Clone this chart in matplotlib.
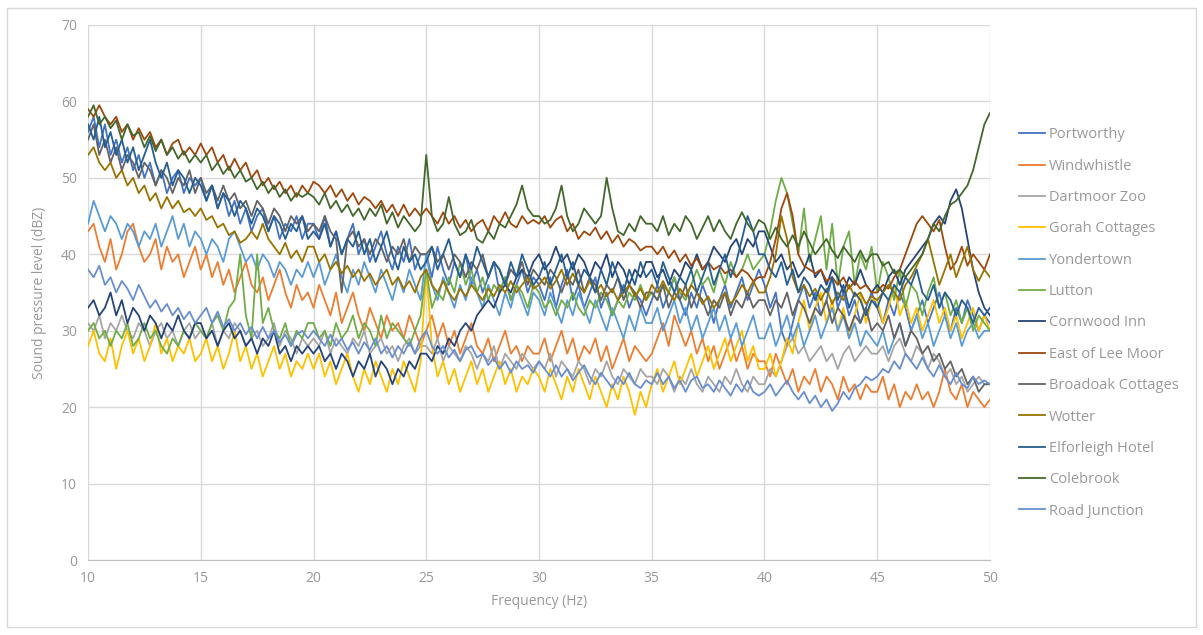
import matplotlib.pyplot as plt
import matplotlib.patches as mpatches
import numpy as np

# frequency axis, 0.25 Hz steps from 10 to 50 Hz
freq = np.arange(161) * 0.25 + 10

portworthy = [56, 58, 54, 57, 53, 55, 52, 54, 51, 53, 50, 52, 49, 51, 48, 50, 51, 48, 50, 49,
              50, 47, 49, 46, 48, 45, 47, 44, 46, 43, 45, 46, 43, 45, 42, 44, 43, 45, 42, 44,
              44, 42, 45, 41, 43, 40, 42, 44, 40, 42, 39, 41, 43, 40, 38, 41, 39, 42, 38, 40,
              40, 37, 41, 38, 36, 39, 37, 40, 36, 38, 35, 37, 39, 35, 37, 34, 36, 38, 35, 37,
              36, 34, 37, 33, 36, 38, 34, 36, 33, 35, 37, 33, 35, 32, 34, 36, 33, 35, 34, 32,
              34, 36, 33, 35, 37, 34, 32, 35, 33, 36, 34, 31, 34, 36, 33, 35, 37, 34, 36, 38,
              36, 33, 35, 30, 28, 31, 34, 36, 33, 35, 32, 34, 37, 33, 35, 32, 34, 31, 33, 35,
              33, 31, 34, 32, 35, 33, 30, 32, 34, 31, 33, 35, 32, 30, 33, 31, 34, 32, 30, 32,
              31]
windwhistle = [43, 44, 41, 39, 42, 38, 40, 43, 44, 41, 39, 40, 42, 38, 41, 39, 40, 37, 39, 41,
               38, 40, 37, 39, 36, 38, 35, 37, 39, 36, 35, 37, 34, 36, 38, 35, 33, 36, 34, 35,
               33, 36, 34, 32, 35, 31, 33, 35, 32, 30, 33, 31, 29, 32, 30, 31, 29, 32, 30, 28,
               30, 32, 29, 31, 28, 30, 27, 29, 31, 28, 27, 29, 26, 28, 30, 27, 28, 26, 28, 27,
               27, 29, 26, 28, 30, 27, 29, 26, 28, 27, 29, 26, 28, 25, 27, 29, 26, 28, 27, 26,
               27, 29, 31, 28, 32, 30, 28, 30, 27, 29, 26, 28, 25, 27, 29, 26, 28, 25, 27, 26,
               26, 24, 27, 25, 23, 25, 22, 24, 23, 25, 22, 24, 23, 21, 24, 22, 23, 21, 23, 22,
               22, 24, 21, 23, 20, 22, 21, 23, 21, 22, 20, 22, 25, 22, 21, 23, 20, 22, 21, 20,
               21]
dartmoor_zoo = [31, 30, 32, 29, 31, 30, 32, 30, 29, 31, 30, 28, 30, 31, 29, 30, 28, 30, 31, 29,
                30, 29, 31, 28, 30, 29, 31, 30, 28, 29, 30, 28, 29, 31, 28, 30, 29, 27, 29, 28,
                29, 28, 30, 27, 29, 28, 27, 29, 28, 30, 27, 28, 29, 27, 28, 26, 28, 29, 27, 28,
                28, 27, 29, 26, 28, 27, 26, 28, 27, 25, 27, 26, 28, 25, 27, 26, 25, 27, 26, 25,
                26, 25, 27, 24, 26, 25, 24, 26, 25, 23, 25, 24, 26, 24, 23, 25, 24, 23, 25, 24,
                24, 23, 25, 24, 22, 24, 23, 25, 23, 22, 24, 23, 22, 24, 23, 25, 23, 22, 24, 23,
                23, 25, 24, 26, 28, 29, 27, 28, 26, 27, 28, 26, 27, 25, 27, 28, 26, 27, 28, 27,
                27, 28, 26, 28, 29, 27, 26, 28, 27, 25, 27, 26, 24, 25, 23, 24, 22, 23, 24, 23,
                23]
gorah = [28, 30, 27, 26, 29, 25, 28, 30, 27, 29, 26, 28, 31, 27, 29, 26, 28, 27, 29, 26,
         27, 29, 26, 28, 25, 27, 30, 26, 28, 25, 27, 24, 26, 28, 25, 27, 24, 26, 25, 27,
         25, 27, 24, 26, 23, 25, 27, 24, 22, 25, 23, 26, 24, 22, 25, 23, 26, 24, 22, 26,
         38, 28, 24, 26, 23, 25, 22, 24, 26, 23, 25, 22, 24, 26, 23, 25, 22, 24, 23, 25,
         24, 22, 25, 23, 21, 24, 22, 25, 23, 21, 24, 22, 20, 23, 21, 24, 22, 19, 22, 20,
         23, 25, 22, 24, 26, 23, 25, 27, 24, 26, 28, 25, 27, 29, 26, 28, 30, 26, 28, 25,
         25, 27, 24, 26, 29, 27, 31, 34, 30, 33, 35, 31, 34, 30, 33, 29, 32, 35, 31, 34,
         34, 31, 33, 36, 32, 34, 31, 33, 30, 32, 34, 31, 33, 30, 32, 29, 31, 33, 30, 32,
         30]
yondertown = [44, 47, 45, 43, 45, 44, 42, 44, 43, 41, 43, 42, 44, 41, 43, 45, 42, 44, 41, 43,
              42, 40, 42, 41, 39, 42, 43, 41, 39, 40, 38, 40, 39, 37, 39, 38, 36, 38, 37, 39,
              37, 39, 36, 38, 40, 37, 35, 38, 36, 39, 37, 35, 38, 36, 34, 37, 35, 38, 36, 34,
              40, 36, 34, 37, 35, 33, 36, 34, 37, 35, 33, 36, 34, 32, 35, 33, 36, 34, 32, 35,
              34, 32, 35, 33, 31, 34, 32, 35, 33, 31, 34, 32, 30, 33, 31, 29, 32, 30, 33, 31,
              31, 33, 30, 32, 34, 31, 33, 30, 32, 29, 31, 33, 30, 32, 29, 31, 28, 30, 32, 29,
              29, 31, 28, 30, 32, 29, 31, 28, 30, 32, 29, 31, 33, 30, 32, 29, 31, 28, 30, 29,
              28, 30, 27, 29, 31, 28, 30, 32, 29, 31, 28, 30, 32, 29, 31, 28, 30, 31, 29, 30,
              30]
lutton = [30, 31, 29, 30, 28, 30, 29, 31, 28, 29, 31, 29, 30, 28, 27, 29, 28, 30, 29, 31,
          30, 29, 31, 32, 30, 33, 34, 40, 32, 29, 40, 31, 33, 30, 29, 31, 28, 30, 29, 31,
          31, 29, 30, 28, 31, 29, 30, 32, 29, 31, 30, 28, 32, 29, 31, 30, 29, 28, 30, 32,
          38, 33, 35, 34, 37, 35, 39, 36, 38, 35, 37, 34, 36, 35, 37, 34, 36, 35, 33, 36,
          35, 33, 34, 32, 34, 33, 35, 33, 32, 34, 33, 35, 34, 32, 34, 33, 35, 34, 36, 34,
          35, 34, 36, 35, 37, 35, 34, 36, 38, 36, 37, 35, 38, 36, 39, 37, 38, 40, 38, 39,
          40, 43, 47, 50, 48, 44, 40, 46, 39, 42, 45, 38, 44, 36, 41, 43, 36, 40, 38, 41,
          35, 39, 37, 34, 38, 33, 36, 35, 32, 35, 37, 33, 35, 32, 34, 31, 33, 30, 32, 31,
          30]
cornwood = [33, 34, 32, 33, 35, 32, 34, 31, 33, 32, 30, 32, 31, 29, 31, 30, 32, 30, 29, 31,
            31, 29, 30, 28, 30, 31, 29, 30, 28, 29, 27, 29, 28, 30, 27, 28, 26, 28, 27, 28,
            27, 28, 26, 27, 25, 27, 26, 24, 26, 25, 27, 24, 26, 25, 23, 25, 24, 26, 25, 27,
            27, 26, 28, 27, 29, 28, 30, 31, 30, 32, 33, 34, 33, 35, 36, 35, 37, 38, 37, 39,
            40, 38, 39, 41, 39, 40, 38, 40, 39, 37, 39, 38, 40, 37, 39, 38, 36, 38, 37, 39,
            39, 37, 38, 36, 38, 37, 39, 38, 40, 38, 39, 41, 40, 39, 41, 42, 40, 42, 41, 43,
            43, 41, 39, 40, 38, 39, 37, 38, 40, 37, 38, 36, 38, 37, 35, 37, 36, 38, 36, 35,
            36, 35, 37, 38, 36, 38, 39, 40, 41, 42, 44, 45, 44, 47, 48.5, 46, 42, 38, 35, 33,
            32]
east_lee_moor = [59, 58, 59.5, 58, 57, 58, 56, 57, 55, 56.5, 55, 56, 54, 55, 53, 54.5, 55, 53, 54, 53,
                 54.5, 53, 54, 52, 53, 51, 52.5, 51, 52, 50, 51, 49, 50, 48.5, 49.5, 48, 49, 47.5, 49, 48,
                 49.5, 49, 48, 49, 47.5, 48.5, 47, 48, 46.5, 47.5, 47, 46, 47, 45.5, 46.5, 45, 46.5, 45, 46, 45,
                 46, 45, 44, 45.5, 44, 45, 43.5, 44.5, 43, 44, 44.5, 43, 45, 44, 45.5, 44, 43.5, 45, 44, 44.5,
                 44, 45, 43.5, 44.5, 45, 43, 44, 42, 43, 42.5, 43.5, 42, 43, 41.5, 42.5, 41, 42, 41.5, 40.5, 41,
                 41, 40, 41, 39.5, 40.5, 39, 40, 38.5, 39.5, 38, 39, 38, 38.5, 37.5, 38, 37, 38, 37.5, 36.5, 37,
                 37, 39, 42, 46, 48, 45, 40, 38.5, 38, 37.5, 38, 36.5, 37, 36, 37, 35.5, 36.5, 35.5, 36, 35,
                 35, 36, 35.5, 37, 38, 40, 42, 44, 45, 44, 43, 44.5, 41, 38, 39, 41, 38.5, 40, 39, 38,
                 40]
broadoak = [55, 57, 53, 55, 52, 54, 51, 53, 52, 50, 52, 51, 49, 51, 50, 48, 50, 49, 51, 48,
            50, 48, 49, 47, 49, 47, 48, 46, 47, 45, 47, 46, 44, 46, 45, 43, 45, 44, 45, 43,
            44, 43, 45, 43, 42, 35, 42, 43, 41, 42, 40, 42, 41, 39, 41, 40, 42, 39, 41, 40,
            40, 41, 39, 40, 38, 40, 39, 37, 39, 38, 40, 37, 39, 38, 36, 38, 37, 39, 36, 38,
            37, 36, 38, 37, 35, 37, 36, 38, 35, 37, 36, 34, 36, 35, 37, 34, 36, 35, 33, 35,
            35, 34, 36, 33, 35, 34, 36, 33, 35, 34, 32, 34, 33, 35, 32, 34, 33, 35, 33, 34,
            34, 32, 34, 33, 35, 32, 34, 33, 31, 33, 32, 34, 31, 33, 32, 30, 32, 31, 33, 30,
            31, 30, 32, 29, 31, 28, 30, 29, 27, 28, 26, 27, 25, 26, 24, 25, 23, 24, 22, 23,
            23]
wotter = [53, 54, 52, 51, 52, 50, 51, 49, 50, 48, 49, 47, 48, 46, 47.5, 46, 47, 45.5, 46, 45,
          46, 44.5, 45, 43.5, 44, 42.5, 43, 41.5, 42, 43, 42, 44, 42, 41, 40, 41.5, 39.5, 40.5, 39, 41,
          41, 39, 40, 38, 39, 37.5, 38.5, 37, 38, 36.5, 37.5, 36, 37, 38, 36, 37, 35.5, 36.5, 35, 37,
          38, 36, 35, 36.5, 35, 34, 35.5, 34.5, 36, 35, 34, 35.5, 34.5, 36, 35, 36.5, 35, 36, 37, 35.5,
          36, 37, 35.5, 36.5, 38, 36, 37.5, 36, 35, 36.5, 35, 36, 34.5, 35.5, 34, 35, 36, 34.5, 35.5, 34,
          36, 35, 36.5, 35, 34, 35.5, 34.5, 36, 35, 33.5, 34.5, 33, 34, 35, 33.5, 34.5, 36, 35, 36.5, 35,
          35, 37, 40, 45, 42, 37, 35, 36, 34.5, 35.5, 34, 35.5, 33.5, 35, 34, 36, 34.5, 35, 33.5, 34.5,
          34, 35, 36, 35, 34, 36, 37, 38.5, 40, 42, 39, 36, 38, 40, 37, 39, 41, 38, 36.5, 38,
          37]
elforleigh = [57, 55, 58, 54, 56, 53, 55, 52, 54, 51, 53, 55, 52, 50, 52, 49, 51, 50, 48, 50,
              49, 47, 49, 46, 48, 47, 45, 47, 46, 44, 46, 45, 43, 45, 44, 42, 44, 43, 45, 42,
              43, 42, 44, 41, 43, 40, 42, 41, 43, 40, 42, 39, 41, 43, 40, 38, 41, 39, 40, 38,
              39, 41, 38, 40, 42, 39, 37, 40, 38, 41, 39, 37, 39, 38, 36, 39, 37, 40, 38, 36,
              37, 39, 36, 38, 40, 37, 39, 36, 38, 37, 35, 38, 36, 39, 37, 35, 38, 36, 39, 37,
              38, 36, 39, 37, 35, 37, 36, 38, 35, 37, 39, 36, 38, 40, 37, 39, 42, 45, 43, 40,
              40, 38, 37, 39, 36, 38, 35, 37, 36, 34, 36, 35, 37, 34, 36, 33, 35, 34, 32, 34,
              33, 35, 34, 36, 35, 37, 36, 38, 35, 34, 36, 33, 35, 34, 32, 34, 33, 31, 33, 32,
              33]
colebrook = [58, 59.5, 57, 58, 56.5, 57.5, 55, 57, 55.5, 56, 54, 55.5, 53.5, 55, 53, 54, 52.5, 53.5, 52, 53,
             52, 53, 51, 52, 50.5, 51.5, 50, 51, 49.5, 50, 48.5, 49.5, 48, 49, 47.5, 48.5, 47, 48, 47.5, 48,
             47.5, 46.5, 48, 46, 47, 45.5, 46.5, 45, 46, 44.5, 46, 45, 46.5, 44, 45.5, 43.5, 45, 44, 43, 44,
             53, 45, 43, 44, 47.5, 44, 42.5, 43, 44.5, 42, 41.5, 43, 42, 44, 43.5, 45, 46.5, 49, 46, 45,
             45, 44, 44.5, 46, 49, 45, 43, 44, 46, 45, 44, 45, 50, 46, 43, 42.5, 44, 43, 45, 44,
             44, 43, 45, 42.5, 44, 43, 45, 44, 42, 43.5, 45, 43, 44.5, 43, 42, 44, 45.5, 44, 43, 44.5,
             44, 42, 43.5, 42, 41, 42.5, 41, 43, 41.5, 40, 41, 42, 40.5, 39.5, 41, 40, 39, 40.5, 39, 40,
             40, 38.5, 39, 37.5, 38, 37, 38, 39, 40, 42, 44, 43, 45, 46.5, 47, 48, 49, 51, 54, 57,
             58.5]
road_junction = [38, 37, 38.5, 36, 37, 35, 36.5, 35.5, 34, 36, 34.5, 33, 34, 32.5, 33.5, 32, 33, 31.5, 32.5, 31,
                 32, 33, 31, 32.5, 30.5, 31.5, 30, 31, 29.5, 30.5, 29, 30.5, 29, 30, 28.5, 29.5, 28, 29.5, 30, 29,
                 30, 29, 28, 29.5, 28, 29, 27.5, 28.5, 27, 28.5, 27.5, 29, 27, 28, 26.5, 28, 27, 28.5, 27, 29,
                 30, 28, 27, 28, 26.5, 27.5, 26, 27.5, 28, 26.5, 27, 25.5, 26.5, 25, 26, 24.5, 26, 25, 25.5, 24.5,
                 26, 25, 24, 25.5, 24, 25, 23.5, 24.5, 25.5, 24, 23, 24.5, 23.5, 22.5, 24, 23, 24.5, 23, 22.5, 23.5,
                 23, 24.5, 23, 24, 22.5, 23.5, 22, 23.5, 24, 22.5, 23, 22, 23.5, 22.5, 21.5, 23, 22, 23.5, 22, 21.5,
                 22, 23, 21.5, 22.5, 23.5, 22, 21, 22, 20.5, 21.5, 20, 21, 19.5, 20.5, 22, 21, 22.5, 23, 24, 23.5,
                 24, 25, 24.5, 26, 25, 27, 26, 25, 26.5, 25, 24, 25.5, 24, 23, 24.5, 23, 22.5, 24, 23, 23.5,
                 23]

sites = ['Portworthy', 'Windwhistle', 'Dartmoor Zoo', 'Gorah Cottages', 'Yondertown', 'Lutton',
         'Cornwood Inn', 'East of Lee Moor', 'Broadoak Cottages', 'Wotter', 'Elforleigh Hotel',
         'Colebrook', 'Road Junction']
levels = [portworthy, windwhistle, dartmoor_zoo, gorah, yondertown, lutton, cornwood,
          east_lee_moor, broadoak, wotter, elforleigh, colebrook, road_junction]
colours = ['#4472C4', '#ED7D31', '#A5A5A5', '#FFC000', '#5B9BD5', '#70AD47',
           '#264478', '#9E480E', '#636363', '#997300', '#255E91', '#43682B', '#698ED0']

plt.rcParams['font.family'] = ['Open Sans', 'DejaVu Sans']
txt = '#999999'

fig = plt.figure(figsize=(12.03, 6.35), dpi=100)
ax = fig.add_axes([88/1203, 1-560/635, (990-88)/1203, (560-25)/635])

for name, vals, c in zip(sites, levels, colours):
    ax.plot(freq, vals, color=c, lw=1.3, label=name)

ax.set_xlim(10, 50)
ax.set_ylim(0, 70)
ax.set_xticks(range(10, 51, 5))
ax.set_yticks(range(0, 71, 10))
ax.grid(True, color='#D9D9D9', lw=1)
ax.set_axisbelow(True)
for s in ['top', 'right', 'left']:
    ax.spines[s].set_visible(False)
ax.spines['bottom'].set_color('#BFBFBF')
ax.tick_params(length=0, colors=txt, labelsize=10, pad=8)
ax.set_xlabel('Frequency (Hz)', color=txt, fontsize=10, labelpad=6)
ax.set_ylabel('Sound pressure level (dBZ)', color=txt, fontsize=10, labelpad=10)

fig.legend(loc='center left', bbox_to_anchor=(1006/1203, 1-323/635), frameon=False,
           fontsize=10.5, labelcolor=txt, handlelength=1.8, handletextpad=0.25, labelspacing=1.12)

# light border round the chart area
fig.patches.append(mpatches.Rectangle((7/1203, 8/635), 1-14/1203, 1-16/635, transform=fig.transFigure,
                                      fill=False, edgecolor='#D9D9D9', lw=1))

fig.savefig('out.png', dpi=100)
